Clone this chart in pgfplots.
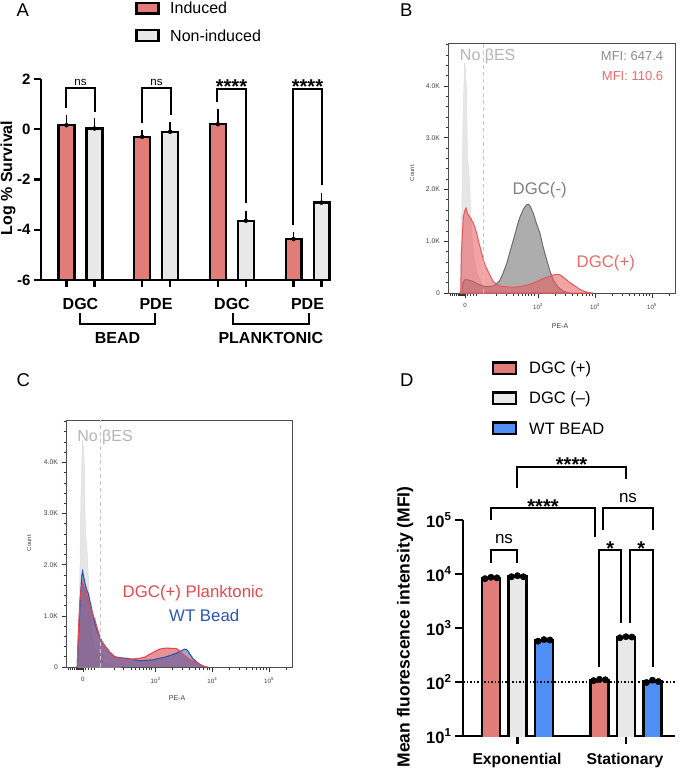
\documentclass[border=0pt]{standalone}
\usepackage{pgfplots}
\pgfplotsset{compat=1.18}
\usepackage{fontspec}
\setmainfont{Liberation Sans}

\newcommand\fs[1]{\fontsize{#1}{#1}\selectfont}

\definecolor{indred}{HTML}{E27C78}
\definecolor{nonind}{HTML}{E8E8E8}
\definecolor{wtblue}{HTML}{4F8EF5}
\definecolor{facsred}{HTML}{E8575A}
\definecolor{facsredtxt}{HTML}{EA6B69}
\definecolor{facsgray}{HTML}{999999}
\definecolor{facsgrayln}{HTML}{6E6E6E}
\definecolor{gatetxt}{HTML}{B5B5B5}
\definecolor{ctlgray}{HTML}{E6E6E6}
\definecolor{plkred}{HTML}{D9595F}
\definecolor{plkredln}{HTML}{E8474C}
\definecolor{beadblue}{HTML}{3B4FA0}
\definecolor{beadblueln}{HTML}{2A55B5}

% ---------- survival: log % survival, mean and SD ----------
% x = bar centre (group +/- 0.185)
\pgfplotstableread{
x v e
0.815 0.16 0.22
1.815 -0.30 0.10
2.815 0.20 0.42
3.815 -4.37 0.10
}\induced
\pgfplotstableread{
x v e
1.185 0.03 0.22
2.185 -0.10 0.22
3.185 -3.64 0.21
4.185 -2.92 0.20
}\noninduced

% ---------- flow histograms (display channel, events) ----------
\pgfplotstableread{
c n
12 0
13.5 1200
15 3300
16.5 4440
17.5 4300
18.5 3900
19.5 2600
20.5 2450
21.5 2150
22.5 1700
24 1100
26 650
29 380
33 200
38 90
45 30
55 0
}\noBES

\pgfplotstableread{
c n
13.7 0
15 200
17 260
21 250
25.3 220
30 170
35.3 135
40 125
45.3 135
50 200
52 250
55 380
58.7 570
62 800
65.3 1020
69 1280
72 1470
76 1640
79 1710
80.5 1715
82 1680
85.3 1540
88 1370
92 1150
95 900
98.7 640
102 420
105.3 250
109 140
112 80
116 30
120 5
122 0
}\dgcMinus

\pgfplotstableread{
c n
12.7 0
13.5 800
15.3 1470
17 1600
18 1640
19 1560
20.3 1510
23 1430
25.3 1350
28 1200
30.3 1020
33 820
35.3 640
38 500
40.3 410
43 300
45.3 220
48 170
52 135
58 120
65.3 110
72 125
78.7 150
85 190
92 250
98 300
105.3 350
110 360
112 350
115 310
118.7 250
122 200
125 160
128.7 110
132 70
136 35
140.3 10
145 0
}\dgcPlus

\pgfplotstableread{
c n
11.3 0
12.5 700
14 1310
15.5 1550
16.7 1640
18 1560
20 1480
22 1330
24 1180
26.5 1050
29 920
31.5 750
34 590
37 460
40.7 370
44 290
49 200
55 165
60.7 150
67 155
74 170
80 200
84 250
89 300
94 350
97 360
100.7 370
105 365
110.7 360
113 330
115.7 290
118 240
120.7 200
124 150
129 100
134 50
139 10
142.3 0
}\plankRed

\pgfplotstableread{
c n
11.3 0
12.5 600
14.7 1440
15.8 1780
16.7 1870
17.8 1760
19 1640
21 1500
22.3 1440
24.5 1250
27.3 990
29.5 820
32.3 660
36 500
40.7 370
44 290
49 200
55 180
60.7 170
67 150
74 120
80 130
87.3 140
94 170
100.7 200
106 235
110.7 270
115 310
119 350
121 340
122.3 320
124.5 250
127.3 170
130.5 110
134 60
137.5 20
140.7 0
}\wtBead

\pgfplotsset{
  facs/.style={
    scale only axis, xmin=0, xmax=227, ymin=0, ymax=4830,
    axis line style={draw=black!70, line width=0.8pt},
    tick align=outside, xtick pos=left, ytick pos=left,
    major tick length=4.5pt, minor tick length=2.5pt,
    tick style={black!80, line width=0.7pt},
    ytick={0,1000,2000,3000,4000},
    yticklabels={0,1.0K,2.0K,3.0K,4.0K},
    minor ytick={200,400,...,4800},
    xtick={17,90,147,204},
    xticklabels={0,10\textsuperscript{3},10\textsuperscript{4},10\textsuperscript{5}},
    minor xtick={2,4,6,8,10,11,12,13,14,15,16,19,22,25,28,48.7,58,65.3,70,74,77.5,80.5,83.5,86,107.2,117.2,124.3,129.8,134.4,138.2,141.5,144.4,164.2,174.2,181.3,186.8,191.4,195.2,198.5,201.4,221.2},
    yticklabel style={font=\fs{6.8}, text=black!75},
    xticklabel style={font=\fs{6.2}, text=black!75, yshift=-2.5pt},
  },
  survbar/.style={draw=black, line width=2.3pt, fill=#1},
  surverr/.style={only marks, mark=none,
    error bars/.cd, y dir=plus, y explicit,
    error bar style={line width=1.8pt, black},
    error mark options={mark size=4.5pt, line width=1.8pt, black}},
}

\begin{document}
\begin{tikzpicture}
\path[use as bounding box] (0,0) rectangle (680pt,-768pt);

% ================= A: survival =================
\begin{axis}[
  at={(41pt,-280pt)}, anchor=south west, scale only axis,
  width=289pt, height=201pt, clip=false,
  xmin=0.478, xmax=4.297, ymin=-6, ymax=2,
  axis x line*=bottom, axis y line*=left,
  axis line style={line width=2.2pt},
  tick align=outside, major tick length=7pt,
  tick style={black, line width=2.2pt},
  xtick={0.815,1.185,1.815,2.185,2.815,3.185,3.815,4.185}, xticklabels={},
  ytick={-6,-4,-2,0,2}, yticklabels={-6,-4,-2,0,2},
  yticklabel style={font=\fs{15}\bfseries},
  minor tick num=0,
]
% error bars first, the bars' outlines cover their feet
\addplot[surverr] table[x=x, y=v, y error=e] {\induced};
\addplot[surverr] table[x=x, y=v, y error=e] {\noninduced};
% bars rise from the axis floor (-6); half width 0.1037
\addplot[survbar=indred] coordinates {(0.711,-6) (0.711,0.16) (0.919,0.16) (0.919,-6)} -- cycle;
\addplot[survbar=indred] coordinates {(1.711,-6) (1.711,-0.30) (1.919,-0.30) (1.919,-6)} -- cycle;
\addplot[survbar=indred] coordinates {(2.711,-6) (2.711,0.20) (2.919,0.20) (2.919,-6)} -- cycle;
\addplot[survbar=indred] coordinates {(3.711,-6) (3.711,-4.37) (3.919,-4.37) (3.919,-6)} -- cycle;
\addplot[survbar=nonind] coordinates {(1.081,-6) (1.081,0.03) (1.289,0.03) (1.289,-6)} -- cycle;
\addplot[survbar=nonind] coordinates {(2.081,-6) (2.081,-0.10) (2.289,-0.10) (2.289,-6)} -- cycle;
\addplot[survbar=nonind] coordinates {(3.081,-6) (3.081,-3.64) (3.289,-3.64) (3.289,-6)} -- cycle;
\addplot[survbar=nonind] coordinates {(4.081,-6) (4.081,-2.92) (4.289,-2.92) (4.289,-6)} -- cycle;
\end{axis}

% ================= B: DGC(+) vs DGC(-) =================
\begin{axis}[facs, at={(448pt,-293pt)}, anchor=south west, width=227pt, height=250pt]
\addplot[fill=ctlgray, draw=black!13, line width=0.5pt] table[x=c, y=n] {\noBES} \closedcycle;
\addplot[fill=facsgray, fill opacity=0.8, draw=facsgrayln, line width=1pt] table[x=c, y=n] {\dgcMinus} \closedcycle;
\addplot[fill=facsred, fill opacity=0.55, draw=facsred, line width=1pt] table[x=c, y=n] {\dgcPlus} \closedcycle;
\draw[black!22, dash pattern=on 4pt off 3pt, line width=1pt] (axis cs:35,0) -- (axis cs:35,4830);
\end{axis}

% ================= C: planktonic vs bead =================
\begin{axis}[facs, at={(66pt,-667pt)}, anchor=south west, width=226pt, height=247pt]
\addplot[fill=ctlgray, draw=black!13, line width=0.5pt] table[x=c, y=n] {\noBES} \closedcycle;
\addplot[fill=plkred, fill opacity=0.65, draw=none] table[x=c, y=n] {\plankRed} \closedcycle;
\addplot[fill=beadblue, fill opacity=0.5, draw=none] table[x=c, y=n] {\wtBead} \closedcycle;
\addplot[draw=beadblueln, line width=1.1pt] table[x=c, y=n] {\wtBead};
\addplot[draw=plkredln, line width=1.1pt] table[x=c, y=n] {\plankRed};
\draw[black!22, dash pattern=on 4pt off 3pt, line width=1pt] (axis cs:35,0) -- (axis cs:35,4830);
\end{axis}

% ================= D: MFI =================
\begin{axis}[
  at={(463pt,-736pt)}, anchor=south west, scale only axis,
  width=212pt, height=216pt,
  xmin=0.498, xmax=2.452, ymode=log, ymin=10, ymax=100000,
  axis x line*=bottom, axis y line*=left,
  axis line style={line width=2.2pt},
  tick align=outside, major tick length=8pt,
  tick style={black, line width=2.2pt},
  xtick={1,2}, xticklabels={},
  ytick={10,100,1000,10000,100000},
  yticklabels={{10\textsuperscript{1}},{10\textsuperscript{2}},{10\textsuperscript{3}},{10\textsuperscript{4}},{10\textsuperscript{5}}},
  yticklabel style={font=\fs{16.5}\bfseries},
  yminorticks=false,
]
\addplot[ybar, bar width=18pt, bar shift=-26.5pt, draw=black, line width=2.5pt, fill=indred]
  coordinates {(1,8467) (2,109)};
\addplot[ybar, bar width=18pt, bar shift=0pt, draw=black, line width=2.5pt, fill=nonind]
  coordinates {(1,9033) (2,677)};
\addplot[ybar, bar width=18pt, bar shift=26.5pt, draw=black, line width=2.5pt, fill=wtblue]
  coordinates {(1,593) (2,103)};
% replicate measurements
\addplot[only marks, mark=*, mark size=3.2pt, black] coordinates {
  (0.701,8200) (0.756,8700) (0.811,8500)
  (0.945,8900) (1.000,9300) (1.055,8900)
  (1.189,570) (1.244,610) (1.299,600)
  (1.701,106) (1.756,112) (1.811,110)
  (1.945,660) (2.000,690) (2.055,680)
  (2.189,98) (2.244,108) (2.299,102)};
\addplot[black, dotted, line width=1.5pt] coordinates {(0.498,100) (2.452,100)};
\end{axis}

% ================= annotations =================
\begin{scope}[x=1pt, y=-1pt]
  % panel letters
  \node[font=\fs{18.5}, anchor=base west, inner sep=0] at (16.5,16.7) {A};
  \node[font=\fs{18.5}, anchor=base west, inner sep=0] at (400,16.7) {B};
  \node[font=\fs{18.5}, anchor=base west, inner sep=0] at (16.5,386.7) {C};
  \node[font=\fs{18.5}, anchor=base west, inner sep=0] at (400,386.7) {D};

  % ---- A legend
  \draw[line width=2.2pt, fill=indred] (136.5,2.8) rectangle (158.5,13.5);
  \draw[line width=2.2pt, fill=nonind] (136.5,30.3) rectangle (158.5,41);
  \node[font=\fs{16}, anchor=base west, inner sep=0] at (170,13.5) {Induced};
  \node[font=\fs{16}, anchor=base west, inner sep=0] at (170,41.5) {Non-induced};

  % ---- A axis title and categories
  \node[font=\fs{16}\bfseries, rotate=90, inner sep=0] at (8,178) {Log \% Survival};
  \foreach \x/\t in {80.5/DGC,156/PDE,232/DGC,307.5/PDE}
    \node[font=\fs{16}\bfseries, anchor=base, inner sep=0] at (\x,309) {\t};
  \draw[line width=2pt] (80,313) -- (80,324) -- (155.3,324) -- (155.3,313);
  \draw[line width=2pt] (233.3,313) -- (233.3,324) -- (309.3,324) -- (309.3,313);
  \node[font=\fs{16}\bfseries, anchor=base, inner sep=0] at (117.5,343.3) {BEAD};
  \node[font=\fs{16}\bfseries, anchor=base, inner sep=0] at (270.8,343.3) {PLANKTONIC};

  % ---- A significance
  \begin{scope}[line width=1.6pt]
    \draw (66,108) -- (66,88) -- (95,88) -- (95,112);
    \draw (142,123) -- (142,88) -- (171,88) -- (171,115);
    \draw (217,102) -- (217,89) -- (246,89) -- (246,203);
    \draw (293,225) -- (293,89) -- (322,89) -- (322,185);
  \end{scope}
  \node[font=\fs{11.5}, anchor=base, inner sep=0] at (80.5,85.5) {ns};
  \node[font=\fs{11.5}, anchor=base, inner sep=0] at (156.5,85.5) {ns};
  \node[font=\fs{20}\bfseries, anchor=base, inner sep=0] at (231.5,93.5) {****};
  \node[font=\fs{20}\bfseries, anchor=base, inner sep=0] at (307.5,93.5) {****};

  % ---- B texts
  \node[font=\fs{16}, text=gatetxt, anchor=base, inner sep=0] at (487.7,60) {No βES};
  \node[font=\fs{13}, text=black!45, anchor=base east, inner sep=0] at (663.3,60) {MFI: 647.4};
  \node[font=\fs{13}, text=facsredtxt, anchor=base east, inner sep=0] at (663.3,81) {MFI: 110.6};
  \node[font=\fs{16.8}, text=black!50, anchor=base, inner sep=0] at (539.7,194.5) {DGC(-)};
  \node[font=\fs{16.8}, text=facsredtxt, anchor=base, inner sep=0] at (605.8,267) {DGC(+)};
  \node[font=\fs{6}, text=black!75, rotate=90, inner sep=0] at (412,173) {Count};
  \node[font=\fs{7}, text=black!75, inner sep=0] at (560,326) {PE-A};

  % ---- C texts
  \node[font=\fs{16}, text=gatetxt, anchor=base, inner sep=0] at (105,441.7) {No βES};
  \node[font=\fs{16.8}, text=plkredln, anchor=base, inner sep=0] at (193,597.5) {DGC(+) Planktonic};
  \node[font=\fs{16.8}, text=beadblueln, anchor=base, inner sep=0] at (204.2,621.7) {WT Bead};
  \node[font=\fs{6}, text=black!75, rotate=90, inner sep=0] at (29,543) {Count};
  \node[font=\fs{7}, text=black!75, inner sep=0] at (177,698) {PE-A};

  % ---- D legend
  \draw[line width=2.5pt, fill=indred] (493,362.5) rectangle (516,374);
  \draw[line width=2.5pt, fill=nonind] (493,392.5) rectangle (516,404);
  \draw[line width=2.5pt, fill=wtblue] (493,422.5) rectangle (516,434);
  \node[font=\fs{16.5}, anchor=base west, inner sep=0] at (529,373.7) {DGC (+)};
  \node[font=\fs{16.5}, anchor=base west, inner sep=0] at (529,403.5) {DGC (–)};
  \node[font=\fs{16.5}, anchor=base west, inner sep=0] at (529,434.5) {WT BEAD};

  % ---- D axis title and categories
  \node[font=\fs{17.5}\bfseries, rotate=90, inner sep=0] at (405,627) {Mean fluorescence intensity (MFI)};
  \node[font=\fs{15.7}\bfseries, anchor=base, inner sep=0] at (517,764.5) {Exponential};
  \node[font=\fs{15.7}\bfseries, anchor=base, inner sep=0] at (625,764.5) {Stationary};

  % ---- D significance
  \begin{scope}[line width=2pt]
    \draw (491,563) -- (491,550) -- (517,550) -- (517,563);
    \draw (517,488) -- (517,467) -- (626,467) -- (626,479);
    \draw (491,520) -- (491,508) -- (595,508) -- (595,537);
    \draw (602.7,530) -- (602.7,508) -- (652.7,508) -- (652.7,530);
    \draw (598.5,667) -- (598.5,550) -- (621,550) -- (621,623);
    \draw (629.5,623) -- (629.5,550) -- (652.7,550) -- (652.7,667);
  \end{scope}
  \node[font=\fs{17}, anchor=base, inner sep=0] at (504,543) {ns};
  \node[font=\fs{17}, anchor=base, inner sep=0] at (628,502) {ns};
  \node[font=\fs{20}\bfseries, anchor=base, inner sep=0] at (571.5,471.5) {****};
  \node[font=\fs{20}\bfseries, anchor=base, inner sep=0] at (543,513.5) {****};
  \node[font=\fs{20}\bfseries, anchor=base, inner sep=0] at (610.3,555.5) {*};
  \node[font=\fs{20}\bfseries, anchor=base, inner sep=0] at (641.3,555.5) {*};
\end{scope}
\end{tikzpicture}
\end{document}
